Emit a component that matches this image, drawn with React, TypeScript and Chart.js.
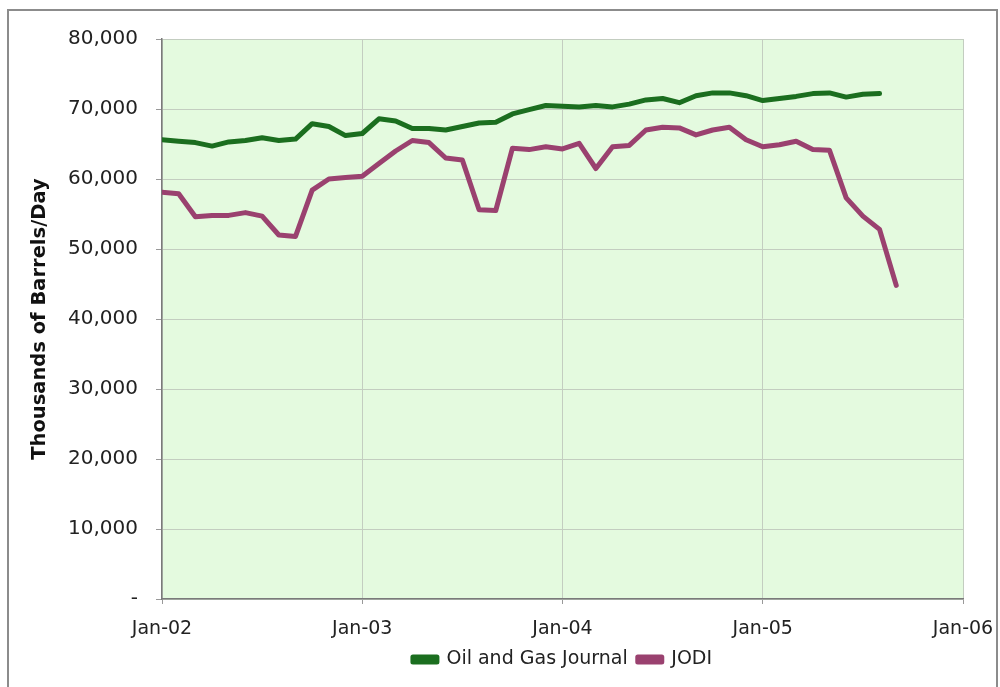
import React, { useEffect, useRef } from "react";
import { Chart, registerables } from "chart.js";

Chart.register(...registerables);

const xTickLabels = ["Jan-02", "Jan-03", "Jan-04", "Jan-05", "Jan-06"];

// Monthly values, index 0 = Jan-02
const ogjValues = [
  65600, 65400, 65200, 64700, 65300, 65500, 65900, 65500, 65700, 67900,
  67500, 66200, 66500, 68600, 68300, 67200, 67200, 67000, 67500, 68000,
  68100, 69300, 69900, 70500, 70400, 70300, 70500, 70300, 70700, 71300,
  71500, 70900, 71900, 72300, 72300, 71900, 71200, 71500, 71800, 72200,
  72300, 71700, 72100, 72200,
];

const jodiValues = [
  58100, 57900, 54600, 54800, 54800, 55200, 54700, 52000, 51800, 58400,
  60000, 60200, 60400, 62200, 64000, 65500, 65200, 63000, 62700, 55600,
  55500, 64400, 64200, 64600, 64300, 65100, 61500, 64600, 64800, 67000,
  67400, 67300, 66300, 67000, 67400, 65600, 64600, 64900, 65400, 64200,
  64100, 57300, 54700, 52800, 44800,
];

const seriesNames = ["Oil and Gas Journal", "JODI"];

const FONT = "'DejaVu Sans', Verdana, sans-serif";

const plotBackground = {
  id: "plotBackground",
  beforeDraw(chart: any) {
    const { ctx, chartArea } = chart;
    if (!chartArea) return;
    ctx.save();
    ctx.fillStyle = "#e4fadf";
    ctx.fillRect(
      chartArea.left,
      chartArea.top,
      chartArea.right - chartArea.left,
      chartArea.bottom - chartArea.top
    );
    ctx.restore();
  },
};

export default function App() {
  const canvasRef = useRef<HTMLCanvasElement | null>(null);

  useEffect(() => {
    document.body.style.margin = "0";
    const canvas = canvasRef.current;
    if (!canvas) return;
    const toPoints = (arr: number[]) => arr.map((v, i) => ({ x: i, y: v }));
    const chart = new Chart(canvas, {
      type: "line",
      data: {
        datasets: [
          {
            label: seriesNames[0],
            data: toPoints(ogjValues),
            borderColor: "#1b6e1f",
            backgroundColor: "#1b6e1f",
            borderWidth: 5,
            pointRadius: 0,
            tension: 0,
            borderJoinStyle: "round",
            borderCapStyle: "round",
          },
          {
            label: seriesNames[1],
            data: toPoints(jodiValues),
            borderColor: "#9a416f",
            backgroundColor: "#9a416f",
            borderWidth: 5,
            pointRadius: 0,
            tension: 0,
            borderJoinStyle: "round",
            borderCapStyle: "round",
          },
        ],
      },
      options: {
        animation: false,
        responsive: false,
        maintainAspectRatio: false,
        layout: { padding: { left: 0, top: 39, right: 37, bottom: 8 } },
        plugins: {
          tooltip: { enabled: false },
          legend: {
            position: "bottom",
            fullSize: false,
            labels: {
              boxWidth: 24,
              boxHeight: 5,
              color: "#222",
              padding: 10,
              font: { family: FONT, size: 19 },
            },
          },
        },
        scales: {
          x: {
            type: "linear",
            min: 0,
            max: 48,
            afterFit: (scale: any) => {
              scale.height = 41;
              scale.paddingLeft = 0;
              scale.paddingRight = 0;
            },
            ticks: {
              stepSize: 12,
              autoSkip: false,
              maxRotation: 0,
              padding: 14,
              color: "#222",
              font: { family: FONT, size: 19 },
              callback: (v: any) => {
                const i = Number(v) / 12;
                return Number.isInteger(i) ? xTickLabels[i] : "";
              },
            },
            grid: {
              color: "#c3cdc0",
              tickColor: "#999",
              tickLength: 5,
              lineWidth: 1,
            },
            border: { display: true, color: "#7a7a7a", width: 1.5 },
          },
          y: {
            min: 0,
            max: 80000,
            afterFit: (scale: any) => {
              scale.width = 162;
              scale.paddingTop = 0;
              scale.paddingBottom = 0;
            },
            ticks: {
              stepSize: 10000,
              padding: 18,
              color: "#222",
              font: { family: FONT, size: 20 },
              callback: (v: any) =>
                Number(v) === 0 ? "-" : Number(v).toLocaleString("en-US"),
            },
            title: {
              display: true,
              text: "Thousands of Barrels/Day",
              color: "#111",
              padding: { top: 28, bottom: 0 },
              font: { family: FONT, size: 19.5, weight: "bold" },
            },
            grid: {
              color: "#c3cdc0",
              tickColor: "#999",
              tickLength: 6,
              lineWidth: 1,
            },
            border: { display: true, color: "#7a7a7a", width: 1.5 },
          },
        },
      },
      plugins: [plotBackground],
    } as any);
    return () => chart.destroy();
  }, []);

  return (
    <div
      style={{
        position: "relative",
        width: 1000,
        height: 687,
        overflow: "hidden",
        background: "#fff",
      }}
    >
      <div
        style={{
          position: "absolute",
          left: 7,
          top: 9,
          width: 991,
          height: 700,
          border: "2px solid #8c8c8c",
          boxSizing: "border-box",
        }}
      />
      <canvas
        ref={canvasRef}
        width={1000}
        height={687}
        style={{ position: "absolute", left: 0, top: 0, width: 1000, height: 687 }}
      />
    </div>
  );
}
